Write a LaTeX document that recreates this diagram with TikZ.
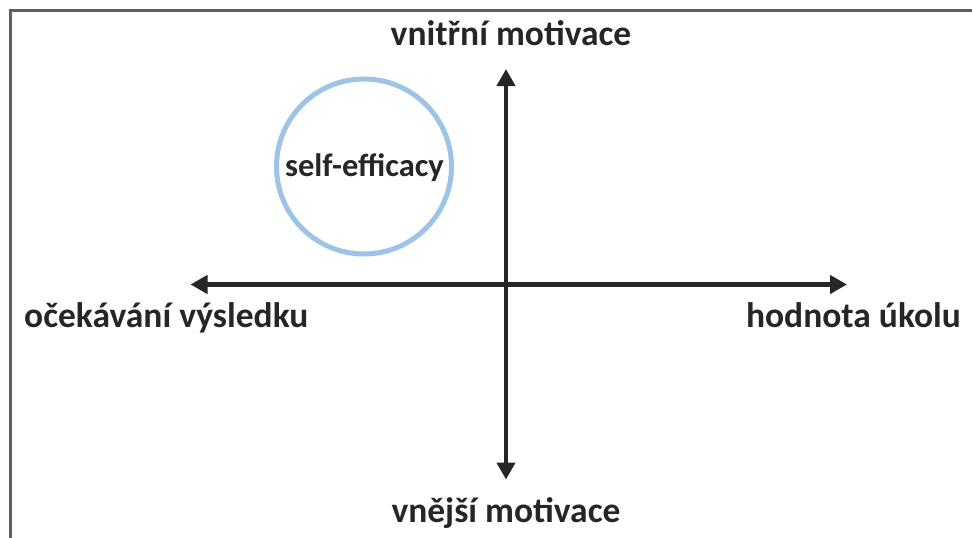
\documentclass[tikz,border=0pt]{standalone}
\usepackage{fontspec}
\setmainfont{Carlito}
\usetikzlibrary{arrows.meta}
\definecolor{axis}{HTML}{262626}
\definecolor{frame}{HTML}{5F5F5F}
\definecolor{ring}{HTML}{9DC3E6}
\begin{document}
\begin{tikzpicture}[x=1pt,y=-1pt,
  lbl/.style={font=\fontsize{35.5}{38}\selectfont\bfseries, text=axis, inner sep=0pt, anchor=base},
  axisline/.style={draw=axis, line width=4.6pt, {Triangle[length=17pt,width=18pt]}-{Triangle[length=17pt,width=18pt]}}]
\useasboundingbox (0,0) rectangle (972,538);
% frame
\draw[frame, line width=3pt] (10.5,540) -- (10.5,10) -- (975,10);
% axis ends
\coordinate (top) at (506,69);
\coordinate (bot) at (506,479.5);
\coordinate (lft) at (190.5,284.5);
\coordinate (rgt) at (847,284.5);
\draw[axisline] (bot) -- (top);
\draw[axisline] (lft) -- (rgt);
% circle
\node[draw=ring, line width=5pt, circle, minimum size=175pt, inner sep=0pt] (se) at (364,166.5) {};
\node[lbl, font=\fontsize{32.5}{36}\selectfont\bfseries] (setext) at (364.5,176.5) {self-efficacy};
% labels
\node[lbl] (vn) at (511,45) {vnitřní motivace};
\node[lbl] (ve) at (506,522) {vnější motivace};
\node[lbl, anchor=base west] (oc) at (24,327) {očekávání výsledku};
\node[lbl, anchor=base east] (ho) at (961,327) {hodnota úkolu};
\end{tikzpicture}
\end{document}
